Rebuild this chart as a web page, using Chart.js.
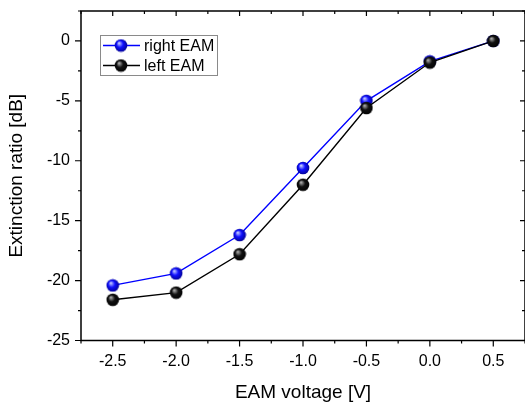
<!DOCTYPE html>
<html>
<head>
<meta charset="utf-8">
<script src="https://cdn.jsdelivr.net/npm/chart.js@4.4.0/dist/chart.umd.min.js"></script>
<style>
  body { margin: 0; background: #fff; }
  #wrap { width: 525px; height: 403px; }
</style>
</head>
<body>
<div id="wrap"><canvas id="chart" width="525" height="403"></canvas></div>
<script>
const voltages = [-2.5, -2.0, -1.5, -1.0, -0.5, 0.0, 0.5];
const rightEam = [-20.4, -19.4, -16.2, -10.6, -5.0, -1.7, 0.0];
const leftEam = [-21.6, -21.0, -17.8, -12.0, -5.6, -1.8, 0.0];
const seriesNames = ['right EAM', 'left EAM'];
const xTitle = 'EAM voltage [V]';
const yTitle = 'Extinction ratio [dB]';

const FONT = '"Liberation Sans", Arial, sans-serif';

// little shaded ball used as the marker
function sphere(base, light, dark) {
    const c = document.createElement('canvas');
    c.width = c.height = 14;
    const g = c.getContext('2d');
    const grad = g.createRadialGradient(5, 4.5, 0.3, 7, 7, 7);
    grad.addColorStop(0, light);
    grad.addColorStop(0.45, base);
    grad.addColorStop(1, dark);
    g.fillStyle = grad;
    g.beginPath();
    g.arc(7, 7, 6.3, 0, Math.PI * 2);
    g.fill();
    return c;
}
const blueBall = sphere('#1010ff', '#c8d0ff', '#00008a');
const blackBall = sphere('#111', '#b0b0b0', '#000');

const toPoints = ys => voltages.map((v, i) => ({ x: v, y: ys[i] }));

const isMult = (v, s) => Math.abs(v / s - Math.round(v / s)) < 1e-6;

// no extra room for end labels, keep plot box fixed
function noPad(s) {
    s.paddingLeft = 0;
    s.paddingRight = 0;
    s.paddingTop = 0;
    s.paddingBottom = 0;
}

// box around plot + major/minor ticks
const framePlugin = {
    id: 'frame',
    beforeDatasetsDraw(chart) {
        const { ctx, chartArea: a, scales } = chart;
        const L = a.left, R = a.right, T = a.top, B = a.bottom;
        ctx.save();
        ctx.strokeStyle = '#000';
        ctx.lineWidth = 1.5;
        ctx.strokeRect(L, T, R - L, B - T);
        ctx.lineWidth = 1.2;
        ctx.beginPath();
        scales.x.ticks.forEach(t => {
            const px = scales.x.getPixelForValue(t.value);
            const major = isMult(t.value, 0.5);
            ctx.moveTo(px, B); ctx.lineTo(px, B + (major ? 6 : 3));
            ctx.moveTo(px, T); ctx.lineTo(px, T + (major ? 5 : 3));
        });
        scales.y.ticks.forEach(t => {
            const py = scales.y.getPixelForValue(t.value);
            const major = isMult(t.value, 5);
            ctx.moveTo(L, py); ctx.lineTo(L - (major ? 6 : 3), py);
            ctx.moveTo(R, py); ctx.lineTo(R - (major ? 5 : 3), py);
        });
        ctx.stroke();
        ctx.restore();
    },
    afterDraw(chart) {
        const { ctx } = chart;
        ctx.save();
        ctx.strokeStyle = '#8a8a8a';
        ctx.lineWidth = 1;
        ctx.strokeRect(100.5, 35.5, 117, 40);
        const rows = [
            { name: seriesNames[0], color: '#0000ff', ball: blueBall, y: 45.5 },
            { name: seriesNames[1], color: '#000', ball: blackBall, y: 65.5 }
        ];
        rows.forEach(r => {
            ctx.strokeStyle = r.color;
            ctx.lineWidth = 1.4;
            ctx.beginPath();
            ctx.moveTo(103, r.y); ctx.lineTo(140, r.y);
            ctx.stroke();
            ctx.drawImage(r.ball, 121 - 7, r.y - 7);
            ctx.fillStyle = '#000';
            ctx.font = '16px ' + FONT;
            ctx.textBaseline = 'middle';
            ctx.fillText(r.name, 144, r.y + 1);
        });
        ctx.restore();
    }
};

new Chart(document.getElementById('chart'), {
    type: 'scatter',
    data: {
        datasets: [
            {
                label: seriesNames[1],
                data: toPoints(leftEam),
                showLine: true,
                borderColor: '#000',
                borderWidth: 1.4,
                pointStyle: blackBall,
                order: 0
            },
            {
                label: seriesNames[0],
                data: toPoints(rightEam),
                showLine: true,
                borderColor: '#0000ff',
                borderWidth: 1.4,
                pointStyle: blueBall,
                order: 1
            }
        ]
    },
    options: {
        responsive: false,
        animation: false,
        layout: { autoPadding: false, padding: { top: 11, right: 0, left: 0, bottom: 0 } },
        plugins: { legend: { display: false }, tooltip: { enabled: false } },
        scales: {
            x: {
                type: 'linear',
                min: -2.75,
                max: 0.75,
                afterFit: s => { s.height = 62.5; noPad(s); },
                border: { display: false },
                grid: { drawOnChartArea: false, drawTicks: false, color: 'transparent' },
                ticks: {
                    stepSize: 0.25,
                    autoSkip: false,
                    maxRotation: 0,
                    padding: 11,
                    color: '#000',
                    font: { family: FONT, size: 16 },
                    callback: v => isMult(v, 0.5) ? v.toFixed(1) : ''
                },
                title: {
                    display: true,
                    text: xTitle,
                    color: '#000',
                    font: { family: FONT, size: 19, lineHeight: 1.1 },
                    padding: { top: 0, bottom: 0 }
                }
            },
            y: {
                type: 'linear',
                min: -25,
                max: 2.5,
                afterFit: s => { s.width = 81; noPad(s); },
                border: { display: false },
                grid: { drawOnChartArea: false, drawTicks: false, color: 'transparent' },
                ticks: {
                    stepSize: 2.5,
                    autoSkip: false,
                    padding: 11,
                    color: '#000',
                    font: { family: FONT, size: 16 },
                    callback: v => isMult(v, 5) ? String(Math.round(v)) : ''
                },
                title: {
                    display: true,
                    text: yTitle,
                    color: '#000',
                    font: { family: FONT, size: 19, lineHeight: 1.1 },
                    padding: { top: 6, bottom: 0 }
                }
            }
        }
    },
    plugins: [framePlugin]
});
</script>
</body>
</html>
